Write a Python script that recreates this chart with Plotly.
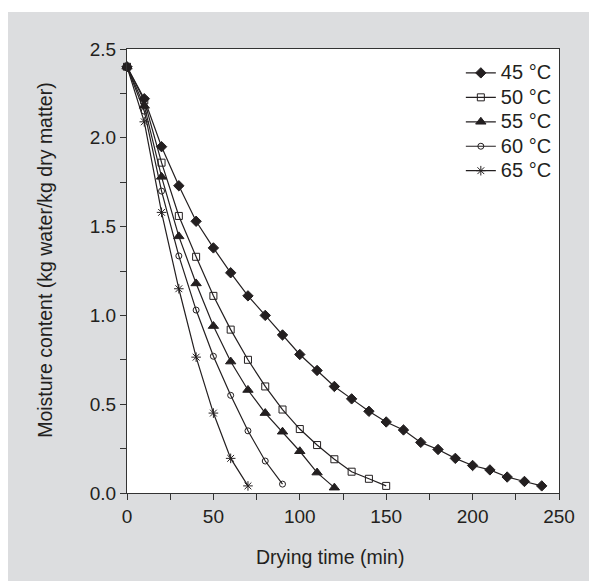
import plotly.graph_objects as go

# drying curves
t45 = [0, 10, 20, 30, 40, 50, 60, 70, 80, 90, 100, 110, 120, 130, 140, 150, 160, 170, 180, 190, 200, 210, 220, 230, 240]
m45 = [2.40, 2.22, 1.95, 1.73, 1.53, 1.38, 1.24, 1.11, 1.00, 0.89, 0.78, 0.69, 0.60, 0.53, 0.46, 0.40, 0.355, 0.285, 0.245, 0.195, 0.155, 0.13, 0.09, 0.065, 0.04]

t50 = [0, 10, 20, 30, 40, 50, 60, 70, 80, 90, 100, 110, 120, 130, 140, 150]
m50 = [2.40, 2.21, 1.86, 1.56, 1.33, 1.11, 0.92, 0.75, 0.60, 0.47, 0.36, 0.27, 0.19, 0.12, 0.08, 0.04]

t55 = [0, 10, 20, 30, 40, 50, 60, 70, 80, 90, 100, 110, 120]
m55 = [2.40, 2.18, 1.78, 1.445, 1.18, 0.94, 0.74, 0.58, 0.45, 0.345, 0.235, 0.115, 0.03]

t60 = [0, 10, 20, 30, 40, 50, 60, 70, 80, 90]
m60 = [2.40, 2.15, 1.70, 1.335, 1.03, 0.77, 0.55, 0.35, 0.18, 0.05]

t65 = [0, 10, 20, 30, 40, 50, 60, 70]
m65 = [2.40, 2.09, 1.58, 1.15, 0.765, 0.45, 0.195, 0.04]

labels = ['45 °C', '50 °C', '55 °C', '60 °C', '65 °C']

INK = '#231f20'
GRAY = '#dcdddf'
FONT = 'Liberation Sans, Arial, sans-serif'

series = [
    (t45, m45, 'diamond', 8),
    (t50, m50, 'square-open', 7),
    (t55, m55, 'triangle-up', 9),
    (t60, m60, 'circle-open', 6),
    (t65, m65, 'asterisk-open', 8),
]

fig = go.Figure()
for (t, m, sym, sz), lab in zip(series, labels):
    fig.add_trace(go.Scatter(
        x=t, y=m, mode='lines+markers', cliponaxis=False,
        name=f"<span style='font-size:20px'>{lab}</span>",
        line=dict(color=INK, width=1.2),
        marker=dict(symbol=sym, size=sz, color=INK, line=dict(color=INK, width=1))))

axis_common = dict(
    showline=True, linecolor='#333333', linewidth=1.3, mirror=True,
    ticks='outside', ticklen=6, tickcolor='#333333', tickwidth=1.2,
    showgrid=False, zeroline=False,
    tickfont=dict(family=FONT, size=19, color=INK),
)
fig.update_xaxes(range=[0, 250], dtick=50, tick0=0,
                 minor=dict(dtick=25, ticks='outside', ticklen=6, tickcolor='#333333'),
                 **axis_common)
fig.update_yaxes(range=[0, 2.5], dtick=0.5, tick0=0, tickformat='.1f',
                 minor=dict(dtick=0.25, ticks='outside', ticklen=6, tickcolor='#333333'),
                 **axis_common)

fig.add_annotation(text='Drying time (min)', xref='paper', yref='paper',
                   x=0.47, y=-0.145, xanchor='center', yanchor='middle', showarrow=False,
                   font=dict(family=FONT, size=19.5, color=INK))
fig.add_annotation(text='Moisture content (kg water/kg dry matter)', xref='paper', yref='paper',
                   x=-0.19, y=0.525, xanchor='center', yanchor='middle',
                   textangle=-90, showarrow=False,
                   font=dict(family=FONT, size=19.5, color=INK))

# thin white strip above the grey panel
fig.add_shape(type='rect', xref='paper', yref='paper', x0=-0.3, x1=1.1,
              y0=1.0833, y1=1.1, fillcolor='white', line_width=0)

fig.update_layout(
    width=589, height=573,
    margin=dict(l=119, r=38, t=41, b=88),
    paper_bgcolor=GRAY, plot_bgcolor='white',
    font=dict(family=FONT, color=INK),
    showlegend=True,
    legend=dict(x=0.995, y=0.985, xanchor='right', yanchor='top',
                bgcolor='rgba(0,0,0,0)', font=dict(family=FONT, size=16.5, color=INK)),
)

fig.write_html("out.html")
